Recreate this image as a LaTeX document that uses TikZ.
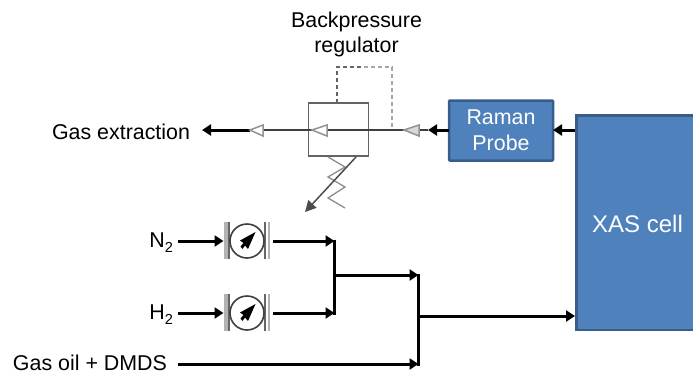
\documentclass[tikz,border=0pt]{standalone}
\usepackage{fontspec}
\setmainfont{Liberation Sans}
\usetikzlibrary{arrows.meta}
\definecolor{boxfill}{RGB}{79,129,189}
\definecolor{boxedge}{RGB}{56,93,138}
\definecolor{valvegray}{RGB}{100,100,100}
\newcommand{\subtwo}{\raisebox{-5pt}{\fontsize{14.5}{14.5}\selectfont 2}}
\tikzset{
  every node/.style={inner sep=0pt,outer sep=0pt},
  lbl/.style={font=\fontsize{21.4}{25}\selectfont,text=black},
  bluebox/.style={draw=boxedge,line width=2.5pt,fill=boxfill,text=white,align=center,rounded corners=0.8pt},
  flow/.style={line width=3pt,-{Triangle[length=9pt,width=11pt]}},
  plain/.style={line width=3pt},
  valve/.style={draw=valvegray,line width=1.8pt},
  opentri/.style={draw=gray!85,line width=1.5pt,fill=white},
  meter/.style={circle,draw=black!75,line width=1.6pt,minimum size=34pt,fill=white}
}
\newcommand{\gauge}[3]{%
  \fill[gray!60] (#2-23,#3-19) rectangle (#2-18,#3+18);
  \fill[black!60] (#2-19,#3-19) rectangle (#2-17.5,#3+18);
  \fill[black!60] (#2+17,#3-19) rectangle (#2+18.5,#3+18);
  \fill[gray!60] (#2+20.5,#3-19) rectangle (#2+23,#3+18);
  \node[meter] (#1) at (#2,#3) {};
  \fill[black] (#2+8.5,#3-9) -- (#2+1,#3+8) -- (#2-2,#3+4.5) -- (#2-4.5,#3+8) -- (#2-6.5,#3+5.5) -- (#2-3.5,#3+2) -- (#2-7,#3-0.5) -- cycle;
}
\begin{document}
\begin{tikzpicture}[x=1pt,y=-1pt]
\useasboundingbox (0,0) rectangle (693,376);
% blue boxes
\node[bluebox,minimum width=104pt,minimum height=60pt,anchor=north west,font=\fontsize{21.4}{26}\selectfont] (raman) at (449,100.5) {Raman\\Probe};
\path[draw=boxedge,line width=2.5pt,fill=boxfill] (576.5,115.5) rectangle (700,330);
\node[draw=none,minimum width=116pt,minimum height=214pt,anchor=north west] (xas) at (576.5,115.5) {};
\node[text=white,font=\fontsize{24}{28}\selectfont] (xaslabel) at (637.5,223.5) {XAS cell};
% labels
\node[lbl,align=center] (bpr) at (356.5,34) {Backpressure\\regulator};
\node[lbl,anchor=base east] (gasx) at (190,139.5) {Gas extraction};
\node[lbl,anchor=base east] (n2) at (173,247) {N\subtwo};
\node[lbl,anchor=base east] (h2) at (173,319) {H\subtwo};
\node[lbl,anchor=base east] (gasoil) at (167,370) {Gas oil + DMDS};
% coordinates
\coordinate (xasR) at (575,130);
\coordinate (ramanIn) at (553,130);
\coordinate (gasTip) at (202,130);
\coordinate (thickL) at (250,130);
\coordinate (thickR) at (428,130);
% backpressure regulator
\node[valve,fill=white,minimum width=60pt,minimum height=53pt,anchor=north west] (reg) at (308.5,103) {};
\draw[draw=valvegray,line width=1.6pt,dash pattern=on 4pt off 3pt] (reg.north -| 337,0) -- (337,67) -- (364,67);
\draw[draw=gray!70,line width=1.6pt,dash pattern=on 4pt off 3pt] (364,67) -- (392,67) -- (392,130);
\draw[draw=black!75,line width=1.8pt] (thickL) -- (thickR);
\draw[flow] (thickL) -- (gasTip);
\draw[flow] (raman.west |- thickR) -- (thickR);
\draw[flow] (xasR) -- (ramanIn);
\draw[opentri] (250,130) -- (263,125) -- (263,136) -- cycle;
\draw[opentri] (312,130) -- (327,125) -- (327,136) -- cycle;
\draw[opentri,fill=gray!30] (404,130) -- (419,125) -- (419,136) -- cycle;
% spring and adjuster
\draw[draw=gray!90,line width=1.3pt] (328,157) -- (345,167) -- (328,177) -- (345,187) -- (328,198) -- (345,208);
\coordinate (adjS) at (356,157);
\coordinate (adjE) at (305,212);
\draw[draw=black!70,line width=1.5pt,-{Triangle[length=11pt,width=11pt]}] (adjS) -- (adjE);
% flow meters
\gauge{m1}{247}{241}
\gauge{m2}{247}{313}
\coordinate (j1) at (334.5,241);
\coordinate (j2) at (334.5,313);
\coordinate (j1m) at (334.5,275);
\coordinate (j3) at (418.5,275);
\coordinate (j4) at (418.5,364);
\coordinate (j3m) at (418.5,316);
\coordinate (n2s) at (178,241);
\coordinate (h2s) at (178,313);
\coordinate (oils) at (178,364);
\coordinate (m1o) at (273,241);
\coordinate (m2o) at (273,313);
\draw[flow] (n2s) -- (223.5,241);
\draw[flow] (h2s) -- (223.5,313);
\draw[flow] (m1o) -- (j1);
\draw[flow] (m2o) -- (j2);
\draw[plain] (j1 |- 0,239.5) -- (j2 |- 0,314.5);
\draw[flow] (j1m) -- (j3);
\draw[flow] (oils) -- (j4);
\draw[plain] (j3 |- 0,273.5) -- (j4 |- 0,365.5);
\draw[flow] (j3m) -- (575,316);
\end{tikzpicture}
\end{document}
